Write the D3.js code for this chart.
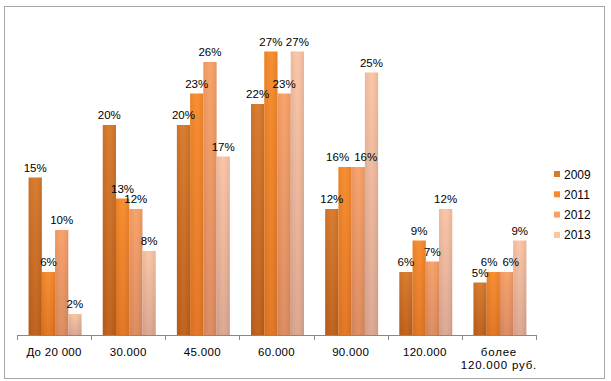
<!DOCTYPE html>
<html><head><meta charset="utf-8">
<script src="https://cdn.jsdelivr.net/npm/d3@7"></script>
<style>body{margin:0;background:#fff}</style>
</head><body>
<svg id="c" width="611" height="381"></svg>
<script>
const categories = ["До 20 000", "30.000", "45.000", "60.000", "90.000", "120.000", "более|120.000 руб."];
const seriesNames = ["2009", "2011", "2012", "2013"];
const v2009 = [15, 20, 20, 22, 12, 6, 5];
const v2011 = [6, 13, 23, 27, 16, 9, 6];
const v2012 = [10, 12, 26, 23, 16, 7, 6];
const v2013 = [2, 8, 17, 27, 25, 12, 9];
const seriesValues = [v2009, v2011, v2012, v2013];
const colorsTop = ["#D8782A", "#F88A2A", "#F9A066", "#FBC4A4"];
const colorsBot = ["#BE5E18", "#E27420", "#DC8A5E", "#DCA690"];

const svg = d3.select("#c");
const font = "'Liberation Sans', Arial, sans-serif";

svg.append("rect").attr("x", 4.5).attr("y", 6.5).attr("width", 600).attr("height", 372)
  .attr("fill", "#fff").attr("stroke", "#A6A6A6").attr("stroke-width", 1);

const defs = svg.append("defs");
seriesNames.forEach((s, i) => {
  const g = defs.append("linearGradient").attr("id", "g" + i).attr("x1", 0).attr("y1", 0).attr("x2", 0).attr("y2", 1);
  g.append("stop").attr("offset", "0%").attr("stop-color", colorsTop[i]);
  g.append("stop").attr("offset", "100%").attr("stop-color", colorsBot[i]);
  const h = defs.append("linearGradient").attr("id", "h" + i).attr("x1", 0).attr("y1", 0).attr("x2", 1).attr("y2", 0);
  h.append("stop").attr("offset", "0%").attr("stop-color", "#000").attr("stop-opacity", 0.06);
  h.append("stop").attr("offset", "50%").attr("stop-color", "#fff").attr("stop-opacity", 0.04);
  h.append("stop").attr("offset", "100%").attr("stop-color", "#000").attr("stop-opacity", 0.08);
});

const x0 = d3.scaleBand().domain(categories).range([17, 536]).paddingInner(0).paddingOuter(0);
const x1 = d3.scaleBand().domain(seriesNames).range([0, x0.bandwidth()]).paddingOuter(0.8).paddingInner(0);
const y = d3.scaleLinear().domain([0, 10]).range([335, 230]);

const groups = svg.append("g").selectAll("g").data(categories).join("g")
  .attr("transform", d => `translate(${x0(d) + 1},0)`);

groups.each(function(cat, ci) {
  const g = d3.select(this);
  seriesNames.forEach((s, si) => {
    const v = seriesValues[si][ci];
    g.append("rect").attr("x", x1(s)).attr("y", y(v)).attr("width", x1.bandwidth())
      .attr("height", y(0) - y(v)).attr("fill", `url(#g${si})`);
    g.append("rect").attr("x", x1(s)).attr("y", y(v)).attr("width", x1.bandwidth())
      .attr("height", y(0) - y(v)).attr("fill", `url(#h${si})`);
  });
  // labels with simple dodge
  const labels = seriesNames.map((s, si) => {
    const v = seriesValues[si][ci];
    const t = g.append("text").attr("x", x1(s) + x1.bandwidth() / 2).attr("y", y(v) - 6)
      .attr("text-anchor", "middle").attr("font-family", font).attr("font-size", 11.5)
      .attr("fill", "#000").text(v + "%");
    return {t, cx: x1(s) + x1.bandwidth() / 2, y: y(v) - 6, w: t.node().getComputedTextLength()};
  });
  for (let k = 0; k < labels.length - 1; k++) {
    const a = labels[k], b = labels[k + 1];
    if (Math.abs(a.y - b.y) < 9) {
      const need = (a.w + b.w) / 2 + 5;
      const have = b.cx - a.cx;
      if (have < need) {
        const d = (need - have) / 2;
        a.cx -= d; b.cx += d;
      }
    }
  }
  labels.forEach(l => l.t.attr("x", l.cx));
});

const axis = svg.append("g").attr("transform", "translate(0,335)")
  .call(d3.axisBottom(x0).tickSize(5).tickFormat(""));
axis.select(".domain").attr("stroke", "#888").attr("d", "M17,0.5H536");
axis.selectAll(".tick").remove();
const bounds = [...categories.map(c => x0(c)), 536];
axis.selectAll("line.tk").data(bounds).join("line").attr("class", "tk")
  .attr("x1", d => Math.round(d) + 0.5).attr("x2", d => Math.round(d) + 0.5)
  .attr("y1", 0).attr("y2", 5).attr("stroke", "#888");

categories.forEach(c => {
  const lines = c.split("|");
  const t = svg.append("text").attr("x", x0(c) + x0.bandwidth() / 2).attr("text-anchor", "middle")
    .attr("font-family", font).attr("font-size", 11.5).attr("fill", "#000")
    .attr("letter-spacing", lines.length > 1 ? 0.8 : 0.3);
  lines.forEach((l, i) => {
    t.append("tspan").attr("x", x0(c) + x0.bandwidth() / 2).attr("y", 356 + i * 12.5).text(l);
  });
});

const legend = svg.append("g");
seriesNames.forEach((s, i) => {
  const ly = 174 + i * 20.3;
  legend.append("rect").attr("x", 554).attr("y", ly - 3).attr("width", 6).attr("height", 6)
    .attr("fill", colorsTop[i]);
  legend.append("text").attr("x", 564).attr("y", ly + 4.5).attr("font-family", font)
    .attr("font-size", 12).attr("fill", "#000").text(s);
});
</script>
</body></html>
